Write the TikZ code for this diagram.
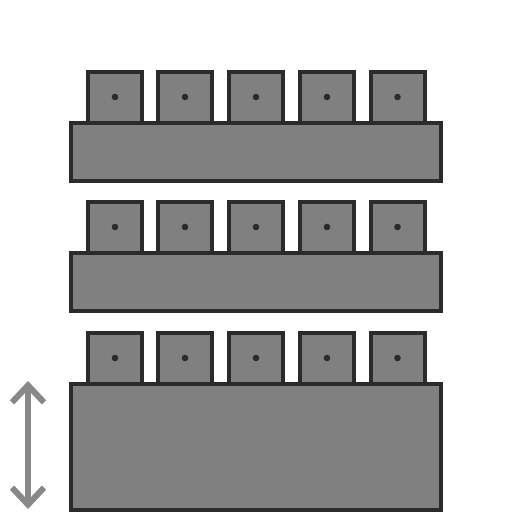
\documentclass[tikz,border=0pt]{standalone}
\usepackage{tikz}
\usetikzlibrary{arrows.meta}
\definecolor{blockgray}{HTML}{808080}
\definecolor{edgegray}{HTML}{2B2B2B}
\definecolor{arrowgray}{HTML}{888888}

\begin{document}
\begin{tikzpicture}[line join=miter,x=1pt,y=-1pt,
    block/.style={fill=blockgray,draw=edgegray,line width=4pt},
    pin/.style={fill=edgegray}]
      \useasboundingbox (0,0) rectangle (512,512);
      % three rows: top of the squares / height of the bar
      \foreach \r/\h in {72/58,202/58,333/126}
      {
      \foreach \x in {115,185,256,327,397.5}
      {
      \draw[block] (\x-27,\r) rectangle (\x+27,\r+51);
      \fill[pin] (\x,\r+25) circle (3.3);
      }
      \draw[block] (71,\r+51) rectangle (441,\r+51+\h);
      }
      % height marker
      \coordinate (hitop) at (28,381);
      \coordinate (hibot) at (28,509);
      \draw[arrowgray,line width=6pt,{Straight Barb[length=17pt,width=32pt]}-{Straight Barb[length=17pt,width=32pt]}] (hitop) -- (hibot);
    \end{tikzpicture}
\end{document}
